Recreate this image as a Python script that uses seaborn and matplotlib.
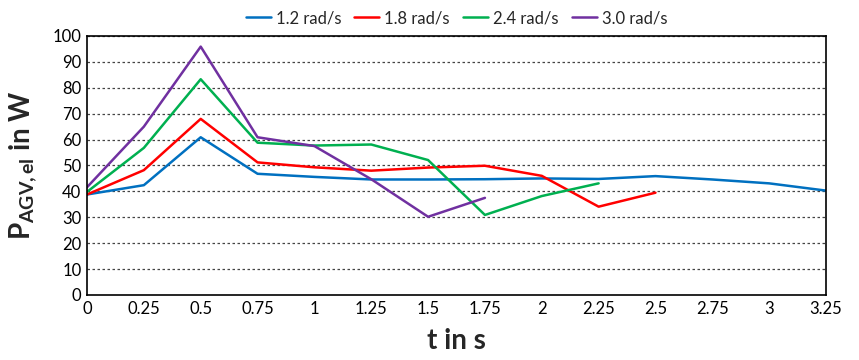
import matplotlib
matplotlib.use("Agg")
import matplotlib.pyplot as plt
import seaborn as sns
import pandas as pd
import numpy as np

t_12 = [0, 0.25, 0.5, 0.75, 1.0, 1.25, 1.5, 1.75, 2.0, 2.25, 2.5, 2.75, 3.0, 3.25]
p_12 = [38.8, 42.4, 60.9, 46.8, 45.6, 44.6, 44.6, 44.7, 45.0, 44.8, 45.9, 44.6, 43.1, 40.3]
t_18 = [0, 0.25, 0.5, 0.75, 1.0, 1.25, 1.5, 1.75, 2.0, 2.25, 2.5]
p_18 = [38.8, 48.2, 68.0, 51.2, 49.3, 48.0, 49.2, 49.9, 46.0, 34.1, 39.5]
t_24 = [0, 0.25, 0.5, 0.75, 1.0, 1.25, 1.5, 1.75, 2.0, 2.25]
p_24 = [39.8, 56.8, 83.3, 58.8, 57.7, 58.1, 52.1, 30.9, 38.2, 43.1]
t_30 = [0, 0.25, 0.5, 0.75, 1.0, 1.25, 1.5, 1.75]
p_30 = [41.6, 65.0, 95.9, 60.9, 57.5, 44.7, 30.2, 37.5]

labels = ["1.2 rad/s", "1.8 rad/s", "2.4 rad/s", "3.0 rad/s"]
colors = ["#0070C0", "#FF0000", "#00B050", "#7030A0"]
x_ticks = [0, 0.25, 0.5, 0.75, 1, 1.25, 1.5, 1.75, 2, 2.25, 2.5, 2.75, 3, 3.25]
x_ticklabels = ["0", "0.25", "0.5", "0.75", "1", "1.25", "1.5", "1.75", "2", "2.25", "2.5", "2.75", "3", "3.25"]
y_ticks = list(range(0, 101, 10))

frames = []
for t, p, lab in zip([t_12, t_18, t_24, t_30], [p_12, p_18, p_24, p_30], labels):
    frames.append(pd.DataFrame({"t": t, "P": p, "series": lab}))
df = pd.concat(frames, ignore_index=True)

sns.set_theme(style="white")
plt.rcParams["font.family"] = ["Lato", "DejaVu Sans"]
plt.rcParams["mathtext.fontset"] = "custom"
plt.rcParams["mathtext.rm"] = "Lato:bold"
plt.rcParams["mathtext.it"] = "Lato:bold"
plt.rcParams["mathtext.bf"] = "Lato:bold"

fig = plt.figure(figsize=(8.59, 3.6), dpi=100)
ax = fig.add_axes([0.1013, 0.1806, 0.8603, 0.7194])

sns.lineplot(data=df, x="t", y="P", hue="series", palette=colors, hue_order=labels,
             linewidth=1.8, ax=ax, legend=True)

ax.set_xlim(0, 3.25)
ax.set_ylim(0, 100)
ax.set_xticks(x_ticks)
ax.set_xticklabels(x_ticklabels)
ax.set_yticks(y_ticks)
ax.tick_params(axis="both", labelsize=12, length=0, pad=4, colors="black")
for y in y_ticks[1:]:
    ax.axhline(y, color="#444444", linestyle=(0, (2, 2)), linewidth=0.9, zorder=0)
for s in ax.spines.values():
    s.set_visible(True)
    s.set_color("black")
    s.set_linewidth(1.2)

ax.set_xlabel("t in s", fontsize=20, fontweight="bold", labelpad=8)
ax.set_ylabel(r"P$_{\mathrm{AGV,el}}$ in W", fontsize=20, fontweight="bold", labelpad=10)

handles, lbls = ax.get_legend_handles_labels()
ax.legend(handles, lbls, loc="lower center", bbox_to_anchor=(0.5, 1.0), ncol=4, frameon=False,
          fontsize=12, handlelength=1.5, handletextpad=0.3, columnspacing=0.8, borderaxespad=0.2)

fig.savefig("out.png", dpi=100)
